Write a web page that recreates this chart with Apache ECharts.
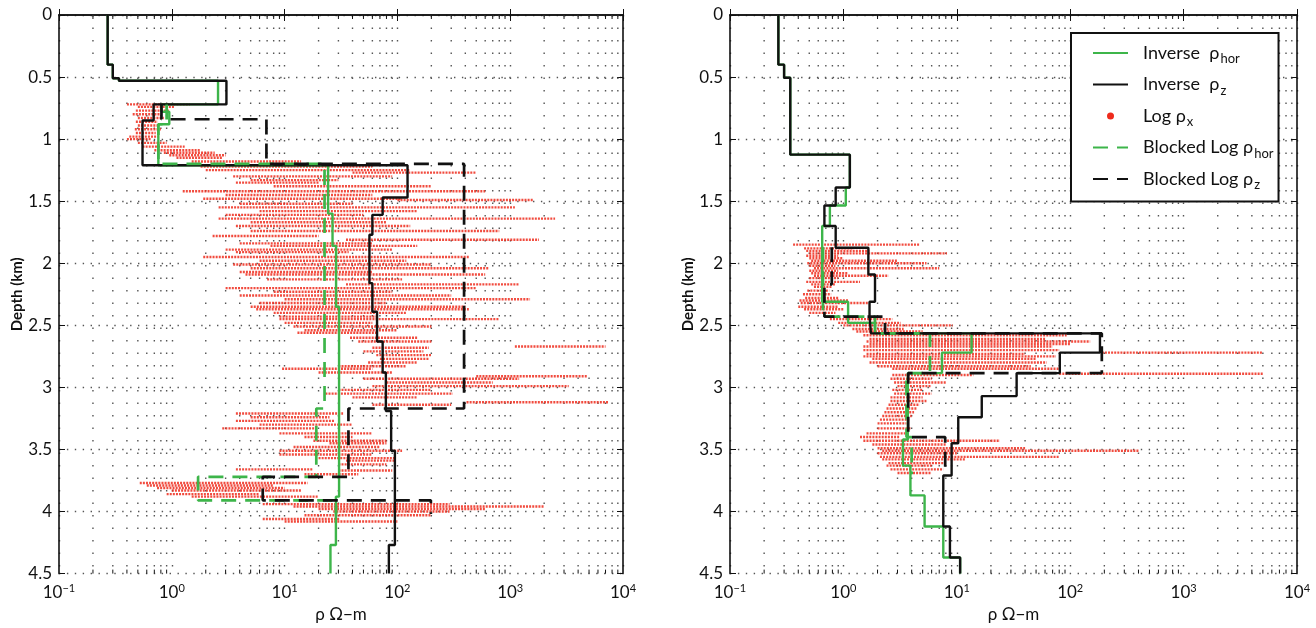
<!DOCTYPE html>
<html>
<head>
<meta charset="utf-8">
<script src="https://cdn.jsdelivr.net/npm/echarts@6/dist/echarts.min.js"></script>
<style>
  html, body { margin: 0; padding: 0; background: #fff; }
  #chart { width: 1316px; height: 628px; }
</style>
</head>
<body>
<div id="chart"></div>
<script>
// ---- data ----
// layered profiles: layer boundaries (km) and the resistivity of each layer (ohm-m)

// left panel
const invZLeftDepth = [0, 0.40, 0.51, 0.53, 0.72, 0.85, 1.21, 1.47, 1.61, 1.77, 2.16, 2.39, 2.63, 2.88, 3.19, 3.51, 4.27, 4.5]
const invZLeftRho = [0.27, 0.30, 0.34, 3.05, 0.69, 0.55, 123, 74, 60, 56.5, 60, 66, 74, 79, 88, 95, 84]
const invHorLeftDepth = [0, 0.40, 0.51, 0.53, 0.72, 0.78, 0.88, 1.21, 1.60, 1.86, 2.35, 3.88, 4.27, 4.5]
const invHorLeftRho = [0.27, 0.30, 0.34, 2.57, 0.81, 0.95, 0.76, 24.3, 26.6, 28.6, 30.4, 28.5, 25.5]
const blkZLeftDepth = [0.72, 0.84, 1.20, 3.17, 3.72, 3.91, 4.02]
const blkZLeftRho = [0.81, 6.9, 390, 36.8, 6.4, 198]
const blkHorLeftDepth = [0.72, 0.88, 1.20, 3.17, 3.72, 3.91, 4.02]
const blkHorLeftRho = [0.9, 0.76, 22.6, 19.1, 1.71, 28.6]

// right panel
const invZRightDepth = [0, 0.40, 0.505, 1.125, 1.39, 1.535, 1.70, 1.875, 2.09, 2.31, 2.43, 2.565, 2.72, 2.885, 3.07, 3.24, 3.45, 3.71, 4.12, 4.37, 4.5]
const invZRightRho = [0.267, 0.30, 0.34, 1.14, 0.855, 0.68, 0.855, 1.66, 1.9, 1.7, 1.75, 183, 81, 33.7, 16.6, 10.3, 9.0, 7.6, 8.7, 10.7]
const invHorRightDepth = [0, 0.40, 0.505, 1.125, 1.39, 1.535, 1.70, 2.31, 2.48, 2.565, 2.72, 2.885, 3.42, 3.63, 3.87, 4.12, 4.37, 4.5]
const invHorRightRho = [0.267, 0.30, 0.34, 1.14, 1.05, 0.76, 0.65, 1.1, 1.9, 13.5, 7.4, 3.7, 3.35, 3.9, 5.2, 7.6, 10.7]
const blkZRightDepth = [1.87, 2.17, 2.43, 2.565, 2.885, 3.40, 3.70]
const blkZRightRho = [0.79, 0.68, 2.33, 190, 3.73, 7.9]
const blkHorRightDepth = [1.87, 2.43, 2.565, 2.885, 3.40, 3.70]
const blkHorRightRho = [0.66, 1.9, 5.8, 3.6, 4.0]

// log rho_x streaks: [depth km, lowest rho, highest rho]
const logLeft = [
  [0.72, 0.40, 1.45], [0.74, 0.50, 1.05], [0.77, 0.48, 0.95], [0.80, 0.45, 0.80], [0.83, 0.50, 0.85],
  [0.86, 0.48, 0.75], [0.89, 0.50, 0.78], [0.92, 0.47, 0.80], [0.95, 0.48, 0.72], [0.98, 0.42, 0.75],
  [1.00, 0.40, 0.65], [1.03, 0.50, 0.90], [1.06, 0.55, 1.30], [1.09, 0.70, 1.80], [1.11, 0.85, 2.40],
  [1.13, 0.95, 3.00], [1.15, 1.10, 2.80], [1.18, 1.50, 14], [1.22, 1.8, 60], [1.25, 2.0, 130],
  [1.27, 40, 500], [1.30, 3.5, 90], [1.33, 5, 30], [1.35, 3.7, 20], [1.38, 8, 200],
  [1.42, 1.25, 600], [1.45, 3, 60], [1.48, 1.9, 110], [1.49, 100, 1600], [1.52, 4, 40],
  [1.55, 2.6, 1100], [1.58, 6, 150], [1.61, 3, 50], [1.64, 2.6, 2500], [1.67, 5, 80],
  [1.70, 3.7, 130], [1.74, 5, 800], [1.78, 2.3, 20], [1.81, 35, 1800], [1.84, 4, 60],
  [1.86, 7.5, 150], [1.89, 3, 90], [1.91, 3.7, 37], [1.95, 1.9, 430], [1.98, 6, 120],
  [2.01, 3.5, 200], [2.04, 5, 650], [2.07, 4, 60], [2.09, 4.5, 600], [2.13, 7, 110],
  [2.17, 35, 1200], [2.20, 3, 500], [2.23, 8, 90], [2.26, 4, 300], [2.29, 10, 1500],
  [2.32, 6, 80], [2.35, 5, 400], [2.37, 5.6, 430], [2.40, 8, 120], [2.43, 9, 65],
  [2.45, 9, 800], [2.48, 10, 60], [2.51, 12, 200], [2.54, 15, 100], [2.56, 13, 65],
  [2.60, 38, 150], [2.63, 45, 200], [2.67, 1100, 7000], [2.68, 60, 190], [2.71, 50, 170],
  [2.74, 65, 200], [2.77, 70, 190], [2.80, 55, 150], [2.83, 30, 120], [2.85, 9.5, 60],
  [2.88, 20, 90], [2.91, 500, 4800], [2.93, 50, 1200], [2.96, 80, 700], [2.99, 60, 3300],
  [3.02, 30, 200], [3.05, 23, 310], [3.08, 40, 150], [3.12, 410, 7500], [3.14, 60, 300],
  [3.21, 3.7, 33], [3.24, 5, 25], [3.27, 3.7, 28], [3.30, 6, 40], [3.33, 2.8, 19],
  [3.37, 9, 60], [3.40, 15, 40], [3.43, 18, 80], [3.45, 25, 80], [3.48, 12, 70],
  [3.51, 9, 110], [3.54, 9, 60], [3.57, 20, 95], [3.59, 35, 95], [3.62, 30, 80],
  [3.66, 3.7, 18], [3.67, 30, 90], [3.70, 15, 45], [3.77, 0.52, 16], [3.79, 0.6, 8],
  [3.81, 0.74, 10], [3.83, 1.0, 14], [3.86, 0.9, 6], [3.88, 1.5, 20], [3.94, 6.4, 290],
  [3.96, 12, 2000], [3.98, 20, 600], [4.00, 27, 290], [4.03, 15, 200], [4.06, 6.4, 31],
  [4.08, 10, 100]
]
const logRight = [
  [1.85, 0.36, 4.7], [1.88, 0.45, 1.2], [1.90, 0.47, 1.7], [1.92, 0.50, 8.2], [1.94, 0.47, 0.9],
  [1.96, 0.50, 1.0], [1.98, 0.52, 3.0], [2.00, 0.48, 5.4], [2.02, 0.50, 0.85], [2.04, 0.55, 7.0],
  [2.06, 0.50, 0.9], [2.08, 0.52, 1.1], [2.10, 0.55, 2.5], [2.12, 0.50, 0.9], [2.15, 0.47, 1.4],
  [2.17, 0.52, 0.85], [2.19, 0.55, 0.8], [2.22, 0.48, 0.75], [2.25, 0.44, 0.78], [2.28, 0.46, 0.9],
  [2.30, 0.41, 1.1], [2.32, 0.42, 1.7], [2.35, 0.40, 0.9], [2.37, 0.45, 1.0], [2.40, 0.50, 0.85],
  [2.45, 0.76, 2.7], [2.48, 0.9, 3.2], [2.50, 1.0, 9.2], [2.53, 1.2, 3.4], [2.55, 1.3, 5],
  [2.58, 1.5, 93], [2.61, 1.7, 60], [2.63, 1.6, 150], [2.65, 1.7, 100], [2.67, 1.5, 70],
  [2.70, 1.5, 80], [2.72, 190, 5000], [2.73, 1.6, 40], [2.75, 1.5, 75], [2.77, 1.8, 50],
  [2.80, 1.7, 62], [2.83, 2.0, 45], [2.85, 2.7, 80], [2.89, 80, 5000], [2.90, 2.7, 14],
  [2.93, 2.6, 6], [2.96, 2.8, 8], [2.99, 3.0, 6], [3.02, 2.7, 5], [3.05, 2.8, 6],
  [3.08, 2.6, 5], [3.11, 2.6, 5.4], [3.14, 2.5, 4.7], [3.17, 2.4, 4.5], [3.20, 2.3, 4.2],
  [3.23, 2.2, 4], [3.26, 2.1, 3.8], [3.29, 2.0, 3.6], [3.33, 2.0, 3.9], [3.37, 1.6, 3.5],
  [3.40, 1.4, 3.1], [3.43, 1.5, 24], [3.46, 1.8, 8], [3.49, 2.0, 40], [3.51, 2.2, 400],
  [3.53, 2.0, 10], [3.56, 2.1, 80], [3.58, 2.2, 12], [3.61, 2.5, 8], [3.63, 2.4, 6],
  [3.66, 2.6, 7.6], [3.69, 3.0, 6]
]

// minor grid positions of the log axis
const minorTicks = [0.2, 0.3, 0.4, 0.5, 0.6, 0.7, 0.8, 0.9, 2, 3, 4, 5, 6, 7, 8, 9,
  20, 30, 40, 50, 60, 70, 80, 90, 200, 300, 400, 500, 600, 700, 800, 900,
  2000, 3000, 4000, 5000, 6000, 7000, 8000, 9000]

const names = ['Inverse  ρhor', 'Inverse  ρz', 'Log ρx', 'Blocked Log ρhor', 'Blocked Log ρz']

const GREEN = '#3db54a'
const BLACK = '#111111'
const RED = '#ee2b1c'
const FONT = 'Lato'

// turn layers into a staircase polyline
function stepPoints(depths, rhos) {
  const pts = []
  rhos.forEach((r, i) => {
    pts.push([r, depths[i]])
    pts.push([r, depths[i + 1]])
  })
  return pts
}

function renderMinor(params, api) {
  const v = api.value(0)
  const top = api.coord([v, 0])
  const bot = api.coord([v, 4.5])
  return {
    type: 'group',
    children: [
      { type: 'line', shape: { x1: top[0], y1: top[1], x2: bot[0], y2: bot[1] },
        style: { stroke: '#555', lineWidth: 1.4, lineDash: [1.4, 11.1] } },
      { type: 'line', shape: { x1: bot[0], y1: bot[1], x2: bot[0], y2: bot[1] - 4 },
        style: { stroke: BLACK, lineWidth: 1 } },
      { type: 'line', shape: { x1: top[0], y1: top[1], x2: top[0], y2: top[1] + 4 },
        style: { stroke: BLACK, lineWidth: 1 } }
    ]
  }
}

function renderStreak(params, api) {
  const a = api.coord([api.value(0), api.value(2)])
  const b = api.coord([api.value(1), api.value(2)])
  return {
    type: 'line',
    shape: { x1: a[0], y1: a[1], x2: b[0], y2: b[1] },
    style: { stroke: RED, lineWidth: 2.4, lineDash: [2, 1.1], opacity: 0.85 }
  }
}

const supRich = { sup: { fontSize: 11, fontFamily: FONT, color: BLACK, padding: [0, 0, 9, 0] } }

function xAxes(i) {
  return [{
    type: 'log', logBase: 10, min: 0.1, max: 10000, gridIndex: i, position: 'bottom',
    axisLine: { lineStyle: { color: BLACK, width: 1.6 } },
    axisTick: { inside: true, length: 6, lineStyle: { color: BLACK } },
    axisLabel: {
      margin: 9, fontSize: 17, fontFamily: FONT, color: BLACK, rich: supRich,
      formatter: v => {
        const e = Math.round(Math.log10(v))
        return '10{sup|' + (e < 0 ? '\u2212' + (-e) : e) + '}'
      }
    },
    splitLine: { show: true, lineStyle: { color: '#555', width: 1.4, type: [1.4, 11.1] } },
    name: 'ρ Ω\u2212m', nameLocation: 'middle', nameGap: 24,
    nameTextStyle: { fontSize: 17, fontFamily: FONT, color: BLACK }
  }, {
    type: 'log', logBase: 10, min: 0.1, max: 10000, gridIndex: i, position: 'top',
    axisLine: { lineStyle: { color: BLACK, width: 1.6 } },
    axisTick: { inside: true, length: 6, lineStyle: { color: BLACK } },
    axisLabel: { show: false },
    splitLine: { show: false }
  }]
}

function yAxes(i) {
  return [{
    type: 'value', inverse: true, min: 0, max: 4.5, interval: 0.5, gridIndex: i, position: 'left',
    axisLine: { lineStyle: { color: BLACK, width: 1.6 } },
    axisTick: { inside: true, length: 6, lineStyle: { color: BLACK } },
    axisLabel: { margin: 7, fontSize: 17, fontFamily: FONT, color: BLACK },
    splitLine: { show: true, lineStyle: { color: '#555', width: 1.4, type: [1.4, 6.5] } },
    name: 'Depth (km)', nameLocation: 'middle', nameGap: 34, nameRotate: 90,
    nameTextStyle: { fontSize: 15, fontWeight: 'bold', fontFamily: FONT, color: BLACK }
  }, {
    type: 'value', inverse: true, min: 0, max: 4.5, interval: 0.5, gridIndex: i, position: 'right',
    axisLine: { lineStyle: { color: BLACK, width: 1.6 } },
    axisTick: { inside: true, length: 6, lineStyle: { color: BLACK } },
    axisLabel: { show: false },
    splitLine: { show: false }
  }]
}

function lineSeries(name, i, pts, color, dashed) {
  return {
    name: name, type: 'line', xAxisIndex: 2 * i, yAxisIndex: 2 * i,
    data: pts, symbol: 'none', showSymbol: false, silent: true,
    lineStyle: { color: color, width: dashed ? 2.7 : 2.4, type: dashed ? [15, 9] : 'solid' },
    itemStyle: { color: color },
    z: dashed ? 5 : 4
  }
}

function panelSeries(i, log, invHor, invZ, blkHor, blkZ) {
  return [
    { type: 'custom', xAxisIndex: 2 * i, yAxisIndex: 2 * i, silent: true, z: 1,
      renderItem: renderMinor, data: minorTicks.map(v => [v, 0]) },
    { name: names[2], type: 'custom', xAxisIndex: 2 * i, yAxisIndex: 2 * i, silent: true, z: 2,
      clip: true, itemStyle: { color: RED }, encode: { x: [0, 1], y: 2 },
      renderItem: renderStreak, data: log.map(s => [s[1], s[2], s[0]]) },
    lineSeries(names[0], i, invHor, GREEN, false),
    lineSeries(names[1], i, invZ, BLACK, false),
    lineSeries(names[3], i, blkHor, GREEN, true),
    lineSeries(names[4], i, blkZ, BLACK, true)
  ]
}

const chart = echarts.init(document.getElementById('chart'))

// legend line entries carry no marker
const noMarker = { opacity: 0 }

chart.setOption({
  animation: false,
  backgroundColor: '#fff',
  textStyle: { fontFamily: FONT },
  grid: [
    { left: 59, top: 15, width: 564, height: 563 },
    { left: 730, top: 15, width: 567, height: 564 }
  ],
  xAxis: [...xAxes(0), ...xAxes(1)],
  yAxis: [...yAxes(0), ...yAxes(1)],
  legend: {
    orient: 'vertical', left: 1071, top: 33,
    padding: [11, 5, 10, 21], itemGap: 10, itemWidth: 35, itemHeight: 7,
    borderColor: BLACK, borderWidth: 2, backgroundColor: '#fff', z: 10,
    data: [
      { name: names[0], itemStyle: noMarker },
      { name: names[1], itemStyle: noMarker },
      { name: names[2], icon: 'circle', itemStyle: { color: RED } },
      { name: names[3], itemStyle: noMarker },
      { name: names[4], itemStyle: noMarker }
    ],
    formatter: n => n.replace(/ρ(\w+)$/, 'ρ{sub|$1}'),
    textStyle: {
      fontSize: 18, fontFamily: FONT, color: BLACK, padding: [0, 0, 0, 10],
      rich: { sub: { fontSize: 13, fontFamily: FONT, color: BLACK, padding: [12, 0, 0, 1] } }
    }
  },
  series: [
    ...panelSeries(0, logLeft,
      stepPoints(invHorLeftDepth, invHorLeftRho), stepPoints(invZLeftDepth, invZLeftRho),
      stepPoints(blkHorLeftDepth, blkHorLeftRho), stepPoints(blkZLeftDepth, blkZLeftRho)),
    ...panelSeries(1, logRight,
      stepPoints(invHorRightDepth, invHorRightRho), stepPoints(invZRightDepth, invZRightRho),
      stepPoints(blkHorRightDepth, blkHorRightRho), stepPoints(blkZRightDepth, blkZRightRho))
  ]
})
</script>
</body>
</html>
